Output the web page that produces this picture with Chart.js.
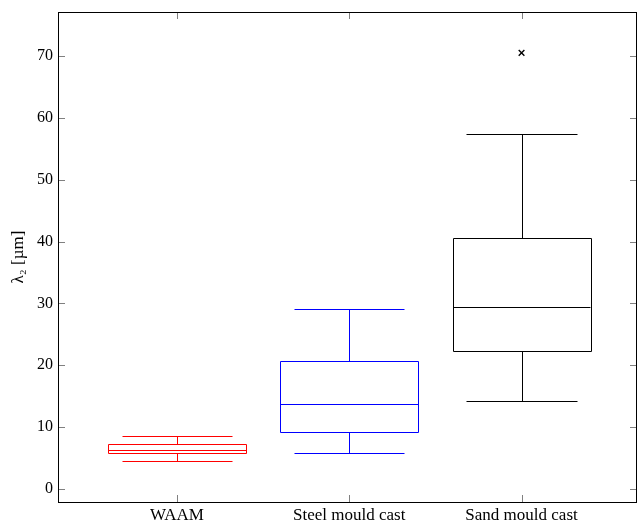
<!DOCTYPE html>
<html>
<head>
<meta charset="utf-8">
<script src="https://cdn.jsdelivr.net/npm/chart.js@4"></script>
<style>
  body { margin: 0; background: #fff; }
</style>
</head>
<body>
<canvas id="boxChart" width="638" height="522"></canvas>
<script>
const categories = ["WAAM", "Steel mould cast", "Sand mould cast"];
const lowerWhisker = [4.48, 5.77, 14.2];
const lowerQuartile = [5.77, 9.17, 22.36];
const median = [6.3, 13.74, 29.37];
const upperQuartile = [7.23, 20.64, 40.6];
const upperWhisker = [8.62, 29.1, 57.4];
const outliers = [[], [], [70.5]];
const boxColors = ["#ff0000", "#0000ff", "#000000"];
const yTicks = [0, 10, 20, 30, 40, 50, 60, 70];

const FONT = "'Liberation Serif', 'DejaVu Serif', serif";

// points for outliers
const outlierPoints = [];
outliers.forEach((list, i) => {
    list.forEach((v) => outlierPoints.push({ x: i + 1, y: v }));
});

const boxPlugin = {
    id: "boxes",
    afterDatasetsDraw(chart) {
        const ctx = chart.ctx;
        const xs = chart.scales.x;
        const ys = chart.scales.y;
        const a = chart.chartArea;
        const px = (v) => Math.round(v) + 0.5;

        ctx.save();
        ctx.lineWidth = 1;
        categories.forEach((c, i) => {
            const cx = xs.getPixelForValue(i + 1);
            const bl = xs.getPixelForValue(i + 1 - 0.4);
            const br = xs.getPixelForValue(i + 1 + 0.4);
            const wl = xs.getPixelForValue(i + 1 - 0.32);
            const wr = xs.getPixelForValue(i + 1 + 0.32);
            const yLw = px(ys.getPixelForValue(lowerWhisker[i]));
            const yQ1 = px(ys.getPixelForValue(lowerQuartile[i]));
            const yMed = px(ys.getPixelForValue(median[i]));
            const yQ3 = px(ys.getPixelForValue(upperQuartile[i]));
            const yUw = px(ys.getPixelForValue(upperWhisker[i]));
            ctx.strokeStyle = boxColors[i];
            ctx.beginPath();
            ctx.rect(px(bl), yQ3, Math.round(br - bl), yQ1 - yQ3);
            ctx.moveTo(px(bl), yMed); ctx.lineTo(px(br), yMed);
            ctx.moveTo(px(cx), yQ3); ctx.lineTo(px(cx), yUw);
            ctx.moveTo(px(cx), yQ1); ctx.lineTo(px(cx), yLw);
            ctx.moveTo(px(wl), yUw); ctx.lineTo(px(wr), yUw);
            ctx.moveTo(px(wl), yLw); ctx.lineTo(px(wr), yLw);
            ctx.stroke();
        });

        // inner ticks, gray
        ctx.strokeStyle = "#808080";
        ctx.beginPath();
        ys.ticks.forEach((t) => {
            const y = px(ys.getPixelForValue(t.value));
            ctx.moveTo(a.left, y); ctx.lineTo(a.left + 7, y);
            ctx.moveTo(a.right, y); ctx.lineTo(a.right - 7, y);
        });
        xs.ticks.forEach((t) => {
            const x = px(xs.getPixelForValue(t.value));
            ctx.moveTo(x, a.bottom); ctx.lineTo(x, a.bottom - 7);
            ctx.moveTo(x, a.top); ctx.lineTo(x, a.top + 7);
        });
        ctx.stroke();

        // frame
        ctx.strokeStyle = "#000";
        ctx.strokeRect(a.left + 0.5, a.top + 0.5, a.right - a.left - 1, a.bottom - a.top);
        ctx.restore();
    },
};

const ctx = document.getElementById("boxChart").getContext("2d");
const boxChart = new Chart(ctx, {
    type: "scatter",
    data: {
        datasets: [
            {
                label: "outliers",
                data: outlierPoints,
                pointStyle: "crossRot",
                radius: 4,
                borderColor: "#000",
                borderWidth: 1.4,
            },
        ],
    },
    options: {
        responsive: false,
        animation: false,
        layout: { autoPadding: false, padding: { top: 12, right: 1, left: 0, bottom: 0 } },
        plugins: {
            legend: { display: false },
            tooltip: { enabled: false },
        },
        scales: {
            x: {
                type: "linear",
                min: 0.31,
                max: 3.67,
                grid: { display: false, drawTicks: false },
                border: { display: false },
                afterBuildTicks: (scale) => {
                    scale.ticks = categories.map((c, i) => ({ value: i + 1 }));
                },
                afterFit: (scale) => {
                    scale.height = 20;
                    scale.paddingLeft = 0;
                    scale.paddingRight = 0;
                },
                ticks: {
                    autoSkip: false,
                    maxRotation: 0,
                    padding: 3,
                    color: "#000",
                    font: { family: FONT, size: 17 },
                    callback: (v) => categories[v - 1],
                },
            },
            y: {
                min: -2.1,
                max: 77.1,
                grid: { display: false, drawTicks: false },
                border: { display: false },
                afterBuildTicks: (scale) => {
                    scale.ticks = yTicks.map((v) => ({ value: v }));
                },
                afterFit: (scale) => {
                    scale.width = 58;
                    scale.paddingTop = 0;
                    scale.paddingBottom = 0;
                },
                ticks: {
                    padding: 5,
                    color: "#000",
                    font: { family: FONT, size: 16 },
                },
                title: {
                    display: true,
                    text: "λ₂ [µm]",
                    color: "#000",
                    padding: { top: 8, bottom: 0 },
                    font: { family: FONT, size: 17 },
                },
            },
        },
    },
    plugins: [boxPlugin],
});
</script>
</body>
</html>
